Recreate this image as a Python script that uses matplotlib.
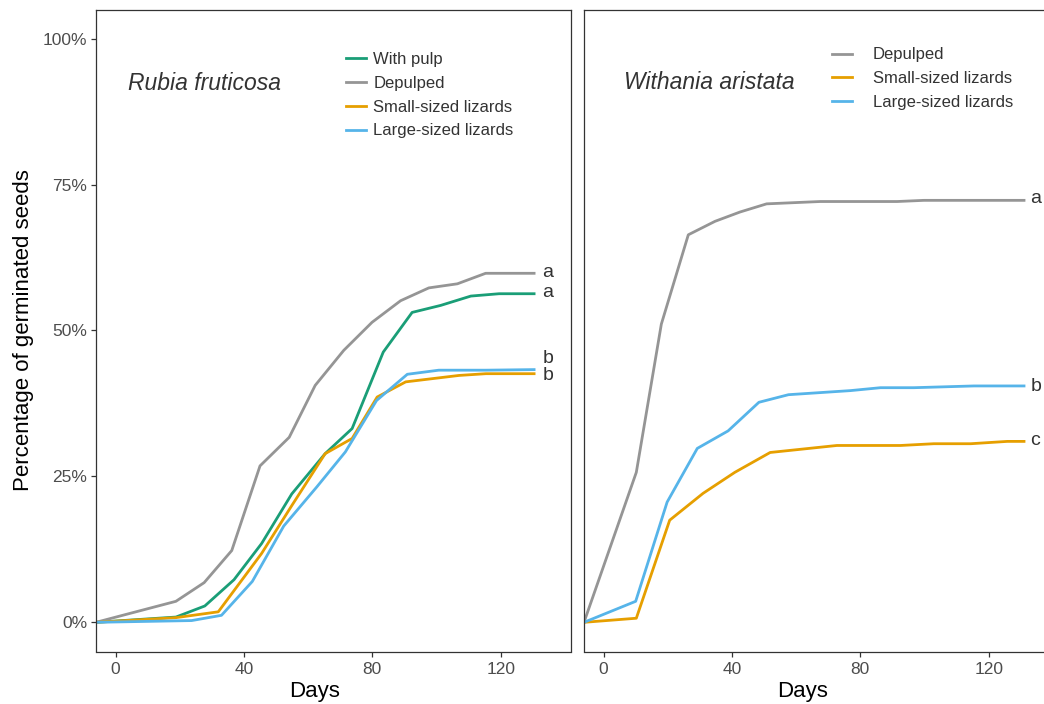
import matplotlib
matplotlib.use("Agg")
import matplotlib.pyplot as plt

plt.rcParams['font.family'] = ['Liberation Sans', 'DejaVu Sans']

# ---------------- data ----------------
# Rubia fruticosa
rf_depulped_x = [-6.1, 18.8, 27.6, 36.2, 45.0, 54.1, 62.2, 71.1, 79.9, 88.8, 97.6, 106.5, 115.3, 130.4]
rf_depulped_y = [0, 3.6, 6.8, 12.3, 26.8, 31.7, 40.6, 46.6, 51.4, 55.1, 57.3, 58.0, 59.8, 59.8]
rf_pulp_x = [-6.1, 18.8, 27.8, 36.9, 45.5, 54.9, 65.3, 73.7, 83.4, 92.4, 101.3, 110.7, 119.5, 130.4]
rf_pulp_y = [0, 0.9, 2.8, 7.3, 13.5, 22.0, 28.9, 33.2, 46.3, 53.1, 54.3, 55.9, 56.3, 56.3]
rf_small_x = [-6.1, 18.8, 32.0, 45.5, 54.9, 65.3, 73.7, 81.5, 90.4, 107.0, 115.4, 130.4]
rf_small_y = [0, 0.8, 1.8, 11.8, 20.0, 28.9, 31.5, 38.6, 41.2, 42.3, 42.6, 42.6]
rf_large_x = [-6.1, 23.7, 33.0, 42.6, 52.4, 62.7, 71.6, 81.3, 90.9, 100.7, 115.4, 130.4]
rf_large_y = [0, 0.3, 1.2, 7.0, 16.5, 23.2, 29.2, 38.0, 42.5, 43.2, 43.2, 43.3]
rf_letters = ['a', 'a', 'b', 'b']
rf_letters_y = [59.1, 55.7, 44.4, 41.5]

# Withania aristata
wa_depulped_x = [-6.1, 10.2, 18.0, 26.4, 34.7, 42.5, 50.8, 67.5, 91.5, 99.8, 131.0]
wa_depulped_y = [0, 25.7, 51.1, 66.4, 68.7, 70.3, 71.7, 72.1, 72.1, 72.3, 72.3]
wa_small_x = [-6.1, 10.2, 20.6, 31.0, 40.9, 51.9, 72.7, 92.5, 102.9, 114.4, 125.8, 131.0]
wa_small_y = [0, 0.7, 17.5, 22.1, 25.7, 29.1, 30.3, 30.3, 30.6, 30.6, 31.0, 31.0]
wa_large_x = [-6.1, 10.0, 19.8, 29.2, 38.8, 48.4, 57.6, 76.9, 86.3, 96.7, 115.4, 131.0]
wa_large_y = [0, 3.6, 20.6, 29.8, 32.8, 37.7, 39.0, 39.7, 40.2, 40.2, 40.5, 40.5]
wa_letters = ['a', 'b', 'c']
wa_letters_y = [71.9, 39.7, 30.4]

letters_x = 133.0
x_ticks = [0, 40, 80, 120]
y_ticks = [0, 25, 50, 75, 100]
y_ticklabels = ['0%', '25%', '50%', '75%', '100%']

col_pulp = '#1A9E77'
col_dep = '#959595'
col_small = '#E69F00'
col_large = '#56B4E9'

# ---------------- figure ----------------
W, H = 1044, 704
fig = plt.figure(figsize=(W / 100, H / 100), dpi=100)
bottom = 52.5 / H
height = 642 / H
ax1 = fig.add_axes([96 / W, bottom, 475 / W, height])
ax2 = fig.add_axes([584 / W, bottom, 475 / W, height])

lw = 2.0
spine_col = '#333333'
tick_col = '#4D4D4D'

for ax in (ax1, ax2):
    ax.set_xlim(-6.1, 141.9)
    ax.set_ylim(-5, 105)
    for s in ax.spines.values():
        s.set_color(spine_col)
        s.set_linewidth(0.9)
    ax.set_xticks(x_ticks)
    ax.set_xticklabels([str(t) for t in x_ticks])
    ax.tick_params(axis='x', direction='out', length=3.3, width=0.9, color=spine_col,
                   labelsize=12.5, labelcolor=tick_col, pad=4.5)
    ax.set_xlabel('Days', fontsize=16, color='black', labelpad=3)
    ax.xaxis.label.set_x(0.46)

ax1.set_yticks(y_ticks)
ax1.set_yticklabels(y_ticklabels)
ax1.tick_params(axis='y', direction='out', length=3.3, width=0.9, color=spine_col,
                labelsize=12.5, labelcolor=tick_col, pad=3)
ax2.set_yticks([])

# left panel
ax1.plot(rf_pulp_x, rf_pulp_y, color=col_pulp, lw=lw, label='With pulp', solid_joinstyle='round')
ax1.plot(rf_depulped_x, rf_depulped_y, color=col_dep, lw=lw, label='Depulped', solid_joinstyle='round')
ax1.plot(rf_small_x, rf_small_y, color=col_small, lw=lw, label='Small-sized lizards', solid_joinstyle='round')
ax1.plot(rf_large_x, rf_large_y, color=col_large, lw=lw, label='Large-sized lizards', solid_joinstyle='round')
for t, yv in zip(rf_letters, rf_letters_y):
    ax1.text(letters_x, yv, t, fontsize=14, color='#333333', ha='left', va='baseline')

ax1.text(0.067, 0.884, 'Rubia fruticosa', transform=ax1.transAxes, fontsize=16.5,
         style='italic', color='#333333', ha='left', va='center')
ax1.legend(loc='upper left', bbox_to_anchor=(0.526, 0.934), frameon=False, fontsize=12,
           handlelength=1.2, handletextpad=0.45, labelspacing=0.53, borderpad=0,
           borderaxespad=0, labelcolor='#333333')

# right panel
ax2.plot(wa_depulped_x, wa_depulped_y, color=col_dep, lw=lw, label='Depulped', solid_joinstyle='round')
ax2.plot(wa_small_x, wa_small_y, color=col_small, lw=lw, label='Small-sized lizards', solid_joinstyle='round')
ax2.plot(wa_large_x, wa_large_y, color=col_large, lw=lw, label='Large-sized lizards', solid_joinstyle='round')
for t, yv in zip(wa_letters, wa_letters_y):
    ax2.text(letters_x, yv, t, fontsize=14, color='#333333', ha='left', va='baseline')

ax2.text(0.084, 0.887, 'Withania aristata', transform=ax2.transAxes, fontsize=16.5,
         style='italic', color='#333333', ha='left', va='center')
ax2.legend(loc='upper left', bbox_to_anchor=(0.522, 0.941), frameon=False, fontsize=12,
           handlelength=1.2, handletextpad=1.25, labelspacing=0.53, borderpad=0,
           borderaxespad=0, labelcolor='#333333')

fig.text(24 / W, 1 - 330 / H, 'Percentage of germinated seeds', rotation=90,
         fontsize=16, color='black', ha='center', va='center')

fig.savefig('out.png', dpi=100)
